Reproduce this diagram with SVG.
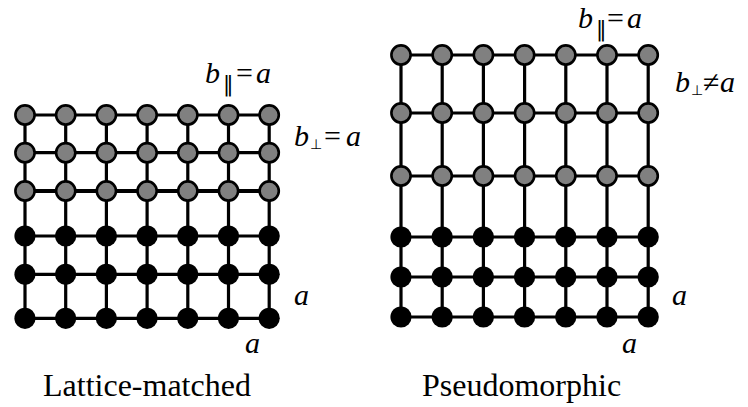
<svg xmlns="http://www.w3.org/2000/svg" width="748" height="407" viewBox="0 0 748 407">
<style>
.ln{stroke:#000;stroke-width:3.2;fill:none}
.g{fill:#808080;stroke:#000;stroke-width:2.6}
.k{fill:#000}
.i{font-style:italic}
</style>
<rect width="748" height="407" fill="#fff"/>
<g id="connectors">
<g id="left-lines">
<path class="ln" d="M25,115H269.2M25,152.7H269.2M25,236H269.2M25,274.3H269.2M25,318.3H269.2"/>
<path class="ln" style="stroke-width:4" d="M25,191H269.2"/>
<path class="ln" d="M25,115V318.3M65.7,115V318.3M106.4,115V318.3M147.1,115V318.3M187.8,115V318.3M228.5,115V318.3M269.2,115V318.3"/>
</g>
<g id="right-lines">
<path class="ln" d="M401,55H648.2M401,113H648.2M401,176H648.2M401,237H648.2M401,277H648.2M401,317H648.2"/>
<path class="ln" d="M401,55V317M442.2,55V317M483.4,55V317M524.6,55V317M565.8,55V317M607,55V317M648.2,55V317"/>
</g>
</g>
<g id="left-lattice">
<g id="left-film">
<circle class="g" cx="25" cy="115" r="9.6"/><circle class="g" cx="65.7" cy="115" r="9.6"/><circle class="g" cx="106.4" cy="115" r="9.6"/><circle class="g" cx="147.1" cy="115" r="9.6"/><circle class="g" cx="187.8" cy="115" r="9.6"/><circle class="g" cx="228.5" cy="115" r="9.6"/><circle class="g" cx="269.2" cy="115" r="9.6"/>
<circle class="g" cx="25" cy="152.7" r="9.6"/><circle class="g" cx="65.7" cy="152.7" r="9.6"/><circle class="g" cx="106.4" cy="152.7" r="9.6"/><circle class="g" cx="147.1" cy="152.7" r="9.6"/><circle class="g" cx="187.8" cy="152.7" r="9.6"/><circle class="g" cx="228.5" cy="152.7" r="9.6"/><circle class="g" cx="269.2" cy="152.7" r="9.6"/>
<circle class="g" cx="25" cy="191" r="9.6"/><circle class="g" cx="65.7" cy="191" r="9.6"/><circle class="g" cx="106.4" cy="191" r="9.6"/><circle class="g" cx="147.1" cy="191" r="9.6"/><circle class="g" cx="187.8" cy="191" r="9.6"/><circle class="g" cx="228.5" cy="191" r="9.6"/><circle class="g" cx="269.2" cy="191" r="9.6"/>
</g>
<g id="left-substrate">
<circle class="k" cx="25" cy="236" r="10.6"/><circle class="k" cx="65.7" cy="236" r="10.6"/><circle class="k" cx="106.4" cy="236" r="10.6"/><circle class="k" cx="147.1" cy="236" r="10.6"/><circle class="k" cx="187.8" cy="236" r="10.6"/><circle class="k" cx="228.5" cy="236" r="10.6"/><circle class="k" cx="269.2" cy="236" r="10.6"/>
<circle class="k" cx="25" cy="274.3" r="10.6"/><circle class="k" cx="65.7" cy="274.3" r="10.6"/><circle class="k" cx="106.4" cy="274.3" r="10.6"/><circle class="k" cx="147.1" cy="274.3" r="10.6"/><circle class="k" cx="187.8" cy="274.3" r="10.6"/><circle class="k" cx="228.5" cy="274.3" r="10.6"/><circle class="k" cx="269.2" cy="274.3" r="10.6"/>
<circle class="k" cx="25" cy="318.3" r="10.6"/><circle class="k" cx="65.7" cy="318.3" r="10.6"/><circle class="k" cx="106.4" cy="318.3" r="10.6"/><circle class="k" cx="147.1" cy="318.3" r="10.6"/><circle class="k" cx="187.8" cy="318.3" r="10.6"/><circle class="k" cx="228.5" cy="318.3" r="10.6"/><circle class="k" cx="269.2" cy="318.3" r="10.6"/>
</g>
</g>
<g id="right-lattice">
<g id="right-film">
<circle class="g" cx="401" cy="55" r="9.6"/><circle class="g" cx="442.2" cy="55" r="9.6"/><circle class="g" cx="483.4" cy="55" r="9.6"/><circle class="g" cx="524.6" cy="55" r="9.6"/><circle class="g" cx="565.8" cy="55" r="9.6"/><circle class="g" cx="607" cy="55" r="9.6"/><circle class="g" cx="648.2" cy="55" r="9.6"/>
<circle class="g" cx="401" cy="113" r="9.6"/><circle class="g" cx="442.2" cy="113" r="9.6"/><circle class="g" cx="483.4" cy="113" r="9.6"/><circle class="g" cx="524.6" cy="113" r="9.6"/><circle class="g" cx="565.8" cy="113" r="9.6"/><circle class="g" cx="607" cy="113" r="9.6"/><circle class="g" cx="648.2" cy="113" r="9.6"/>
<circle class="g" cx="401" cy="176" r="9.6"/><circle class="g" cx="442.2" cy="176" r="9.6"/><circle class="g" cx="483.4" cy="176" r="9.6"/><circle class="g" cx="524.6" cy="176" r="9.6"/><circle class="g" cx="565.8" cy="176" r="9.6"/><circle class="g" cx="607" cy="176" r="9.6"/><circle class="g" cx="648.2" cy="176" r="9.6"/>
</g>
<g id="right-substrate">
<circle class="k" cx="401" cy="237" r="10.6"/><circle class="k" cx="442.2" cy="237" r="10.6"/><circle class="k" cx="483.4" cy="237" r="10.6"/><circle class="k" cx="524.6" cy="237" r="10.6"/><circle class="k" cx="565.8" cy="237" r="10.6"/><circle class="k" cx="607" cy="237" r="10.6"/><circle class="k" cx="648.2" cy="237" r="10.6"/>
<circle class="k" cx="401" cy="277" r="10.6"/><circle class="k" cx="442.2" cy="277" r="10.6"/><circle class="k" cx="483.4" cy="277" r="10.6"/><circle class="k" cx="524.6" cy="277" r="10.6"/><circle class="k" cx="565.8" cy="277" r="10.6"/><circle class="k" cx="607" cy="277" r="10.6"/><circle class="k" cx="648.2" cy="277" r="10.6"/>
<circle class="k" cx="401" cy="317" r="10.6"/><circle class="k" cx="442.2" cy="317" r="10.6"/><circle class="k" cx="483.4" cy="317" r="10.6"/><circle class="k" cx="524.6" cy="317" r="10.6"/><circle class="k" cx="565.8" cy="317" r="10.6"/><circle class="k" cx="607" cy="317" r="10.6"/><circle class="k" cx="648.2" cy="317" r="10.6"/>
</g>
</g>
<g id="left-labels" font-family="Liberation Serif, serif" fill="#000">
<text class="i" x="205" y="83" font-size="30">b</text>
<text x="223" y="91" font-size="21" font-family="DejaVu Sans, sans-serif">‖</text>
<text x="236" y="83" font-size="30">=</text>
<text class="i" x="256" y="83" font-size="30">a</text>
<text class="i" x="294" y="146" font-size="30">b</text>
<text x="310" y="149" font-size="14" font-family="DejaVu Sans, sans-serif">⊥</text>
<text x="324" y="146" font-size="30">=</text>
<text class="i" x="346" y="146" font-size="30">a</text>
<text class="i" x="294" y="305" font-size="30">a</text>
<text class="i" x="245" y="353" font-size="30">a</text>
<text x="43" y="396" font-size="32">Lattice-matched</text>
</g>
<g id="right-labels" font-family="Liberation Serif, serif" fill="#000">
<text class="i" x="578" y="28" font-size="30">b</text>
<text x="596" y="36" font-size="21" font-family="DejaVu Sans, sans-serif">‖</text>
<text x="607" y="28" font-size="30">=</text>
<text class="i" x="627" y="28" font-size="30">a</text>
<text class="i" x="675" y="92" font-size="30">b</text>
<text x="691" y="95" font-size="14" font-family="DejaVu Sans, sans-serif">⊥</text>
<text x="703" y="92" font-size="30">≠</text>
<text class="i" x="720" y="92" font-size="30">a</text>
<text class="i" x="672" y="305" font-size="30">a</text>
<text class="i" x="622" y="353" font-size="30">a</text>
<text x="422" y="396" font-size="32">Pseudomorphic</text>
</g>
</svg>
